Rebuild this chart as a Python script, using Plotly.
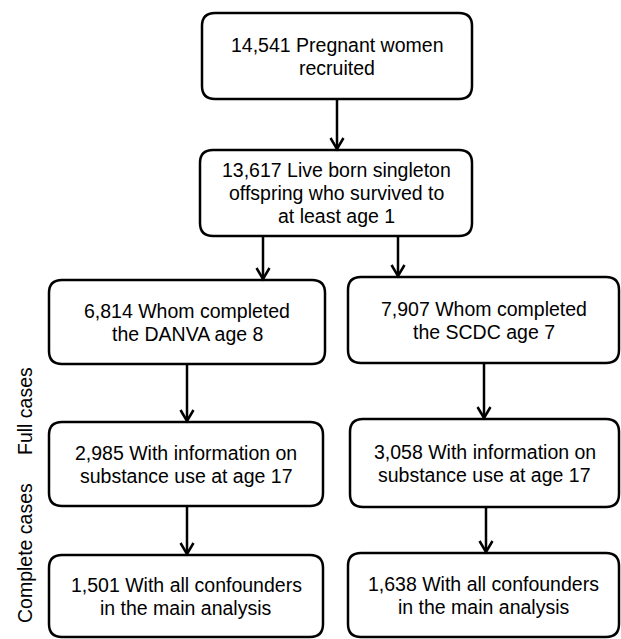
import plotly.graph_objects as go

# ---- data ----
counts = [14541, 13617, 6814, 7907, 2985, 3058, 1501, 1638]
first_lines = ["Pregnant women", "Live born singleton", "Whom completed", "Whom completed",
               "With information on", "With information on", "With all confounders",
               "With all confounders"]
other_lines = [["recruited"],
               ["offspring who survived to", "at least age 1"],
               ["the DANVA age 8"],
               ["the SCDC age 7"],
               ["substance use at age 17"],
               ["substance use at age 17"],
               ["in the main analysis"],
               ["in the main analysis"]]
side_labels = ["Full cases", "Complete cases"]
# flow edges: (from box, to box)
edges = [(0, 1), (1, 2), (1, 3), (2, 4), (3, 5), (4, 6), (5, 7)]

# ---- layout geometry (pixels, origin top-left) ----
box_x0 = [202, 200, 49, 348, 49, 350, 49, 348]
box_x1 = [472, 472, 325, 619, 323, 619, 323, 619]
box_y0 = [13, 150, 280, 277, 422, 419, 555, 553]
box_y1 = [99, 236, 364, 363, 506, 507, 637, 637]
edge_x = [337, 263, 398, 187, 484, 187, 486]
side_x = [25, 25]
side_y = [411, 553]

W, H = 621, 639
R = 13
LW = 2.5
FONT = dict(family="Liberation Sans, Arial, sans-serif", size=19.5, color="black")
LINE_H = 23

shapes = []
annotations = []


def rounded(x0, y0, x1, y1, r):
    return (f"M{x0 + r},{y0} L{x1 - r},{y0} Q{x1},{y0} {x1},{y0 + r} "
            f"L{x1},{y1 - r} Q{x1},{y1} {x1 - r},{y1} L{x0 + r},{y1} "
            f"Q{x0},{y1} {x0},{y1 - r} L{x0},{y0 + r} Q{x0},{y0} {x0 + r},{y0} Z")


for i in range(len(counts)):
    x0, x1, y0, y1 = box_x0[i], box_x1[i], box_y0[i], box_y1[i]
    shapes.append(dict(type="path", path=rounded(x0, y0, x1, y1, R),
                       xref="x", yref="y", line=dict(color="black", width=LW),
                       fillcolor="white", layer="below"))
    lines = [f"{counts[i]:,} {first_lines[i]}"] + other_lines[i]
    cx = (x0 + x1) / 2
    cy = (y0 + y1) / 2
    n = len(lines)
    for k, t in enumerate(lines):
        annotations.append(dict(x=cx, y=cy + (k - (n - 1) / 2) * LINE_H, text=t,
                                showarrow=False, xref="x", yref="y",
                                xanchor="center", yanchor="middle", font=FONT))

for (a, b), ex in zip(edges, edge_x):
    ys = box_y1[a]
    ye = box_y0[b]
    shapes.append(dict(type="line", x0=ex, x1=ex, y0=ys, y1=ye - 1, xref="x", yref="y",
                       line=dict(color="black", width=LW)))
    shapes.append(dict(type="path", path=f"M{ex - 6.5},{ye - 12} L{ex},{ye - 1} L{ex + 6.5},{ye - 12}",
                       xref="x", yref="y", line=dict(color="black", width=LW)))

for t, sx, sy in zip(side_labels, side_x, side_y):
    annotations.append(dict(x=sx, y=sy, text=t, textangle=-90, showarrow=False,
                            xref="x", yref="y", xanchor="center", yanchor="middle",
                            font=FONT))

fig = go.Figure()
fig.update_layout(
    width=W, height=H,
    margin=dict(l=0, r=0, t=0, b=0),
    paper_bgcolor="white", plot_bgcolor="white",
    xaxis=dict(range=[0, W], visible=False, fixedrange=True),
    yaxis=dict(range=[H, 0], visible=False, fixedrange=True),
    shapes=shapes, annotations=annotations, showlegend=False,
)
fig.write_html("out.html", config=dict(displayModeBar=False),
               post_script="document.body.style.margin='0';document.body.style.overflow='hidden';")
